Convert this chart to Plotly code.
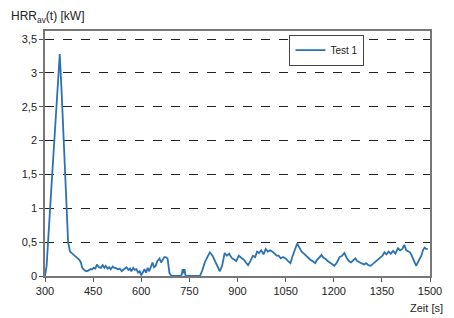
import plotly.graph_objects as go

time_s = [300, 305, 318, 332, 340, 346, 352, 360, 367, 372, 378, 385, 392, 400, 407, 412, 416, 422, 428, 435, 441, 447, 452, 457, 462, 468, 474, 480, 485, 489, 495, 500, 505, 511, 516, 520, 527, 533, 539, 546, 550, 554, 560, 565, 569, 575, 580, 585, 590, 595, 600, 605, 610, 615, 620, 625, 630, 635, 640, 645, 650, 657, 662, 667, 672, 676, 682, 688, 695, 705, 715, 722, 726, 729, 732, 735, 738, 745, 760, 775, 783, 790, 798, 806, 814, 822, 830, 838, 845, 852, 860, 867, 874, 881, 888, 896, 904, 912, 920, 926, 933, 940, 948, 955, 961, 967, 974, 981, 988, 995, 1002, 1009, 1016, 1022, 1028, 1035, 1042, 1050, 1058, 1065, 1072, 1079, 1086, 1093, 1100, 1107, 1113, 1120, 1127, 1134, 1142, 1148, 1155, 1162, 1168, 1175, 1181, 1188, 1195, 1202, 1210, 1218, 1226, 1233, 1240, 1247, 1254, 1261, 1267, 1273, 1280, 1287, 1294, 1301, 1308, 1315, 1322, 1330, 1338, 1346, 1352, 1358, 1364, 1371, 1378, 1385, 1392, 1400, 1407, 1414, 1420, 1426, 1432, 1438, 1443, 1447, 1452, 1457, 1462, 1468, 1473, 1478, 1483, 1488, 1493, 1497, 1500]
hrr_kw = [0.0, 0.15, 1.16, 2.2, 2.8, 3.28, 2.7, 1.9, 1.16, 0.5, 0.36, 0.33, 0.3, 0.27, 0.24, 0.2, 0.12, 0.09, 0.07, 0.08, 0.1, 0.1, 0.12, 0.11, 0.17, 0.13, 0.12, 0.16, 0.12, 0.15, 0.11, 0.13, 0.1, 0.14, 0.12, 0.12, 0.1, 0.11, 0.07, 0.1, 0.12, 0.13, 0.09, 0.11, 0.07, 0.12, 0.09, 0.1, 0.05, 0.07, 0.01, 0.06, 0.1, 0.05, 0.12, 0.07, 0.15, 0.2, 0.13, 0.15, 0.22, 0.26, 0.2, 0.24, 0.28, 0.28, 0.26, 0.04, 0.0, 0.0, 0.0, 0.0, 0.02, 0.1, 0.04, 0.1, 0.0, 0.0, 0.0, 0.0, 0.0, 0.08, 0.2, 0.28, 0.35, 0.3, 0.22, 0.15, 0.07, 0.15, 0.34, 0.3, 0.33, 0.27, 0.25, 0.22, 0.3, 0.27, 0.24, 0.2, 0.16, 0.22, 0.3, 0.28, 0.36, 0.34, 0.38, 0.32, 0.4, 0.36, 0.38, 0.36, 0.33, 0.3, 0.3, 0.26, 0.28, 0.26, 0.22, 0.19, 0.3, 0.38, 0.48, 0.42, 0.36, 0.33, 0.3, 0.28, 0.24, 0.22, 0.19, 0.24, 0.28, 0.31, 0.27, 0.25, 0.22, 0.2, 0.18, 0.15, 0.2, 0.28, 0.3, 0.34, 0.27, 0.22, 0.2, 0.24, 0.26, 0.22, 0.2, 0.18, 0.17, 0.19, 0.16, 0.15, 0.18, 0.22, 0.24, 0.28, 0.3, 0.35, 0.32, 0.36, 0.33, 0.37, 0.33, 0.41, 0.38, 0.4, 0.46, 0.38, 0.36, 0.35, 0.3, 0.26, 0.2, 0.15, 0.2, 0.25, 0.3, 0.38, 0.42, 0.4, 0.4]

y_tickvals = [0, 0.5, 1, 1.5, 2, 2.5, 3, 3.5]
x_tickvals = [300, 450, 600, 750, 900, 1050, 1200, 1350, 1500]

fig = go.Figure()
fig.add_trace(go.Scatter(
    x=time_s, y=hrr_kw, mode="lines", name="Test 1",
    line=dict(color="#2A72B2", width=1.8),
))

font = dict(family="Liberation Sans, Arial, sans-serif", size=11, color="#222222")

fig.update_layout(
    width=446, height=310,
    margin=dict(l=37, r=17, t=23, b=42),
    paper_bgcolor="white", plot_bgcolor="white",
    separators=",.",
    font=font,
    showlegend=True,
    legend=dict(
        x=0.635, y=0.985, xanchor="left", yanchor="top",
        bgcolor="white", bordercolor="#444444", borderwidth=1,
        font=dict(size=10, family="Liberation Sans, Arial, sans-serif", color="#222222"),
        itemwidth=30,
    ),
    xaxis=dict(
        range=[300, 1500], tickvals=x_tickvals,
        showgrid=False, zeroline=False,
        showline=True, linecolor="#777777", linewidth=1.5, mirror=True,
        ticks="outside", ticklen=4, tickcolor="#555555",
        tickfont=dict(size=11),
    ),
    yaxis=dict(
        range=[0, 3.62], tickvals=y_tickvals,
        showgrid=True, gridcolor="#222222", griddash="dash", gridwidth=1,
        zeroline=False,
        showline=True, linecolor="#777777", linewidth=1.5, mirror=True,
        ticks="outside", ticklen=4, tickcolor="#555555",
        tickfont=dict(size=11),
    ),
)

fig.add_annotation(
    text="HRR<sub>av</sub>(t) [kW]", xref="paper", yref="paper",
    x=-0.094, y=1.0, xanchor="left", yanchor="bottom", yshift=4,
    showarrow=False, font=dict(size=12),
)
fig.add_annotation(
    text="Zeit [s]", xref="paper", yref="paper",
    x=1.038, y=0, xanchor="right", yanchor="top", yshift=-24,
    showarrow=False, font=dict(size=11),
)

fig.write_html("out.html")
